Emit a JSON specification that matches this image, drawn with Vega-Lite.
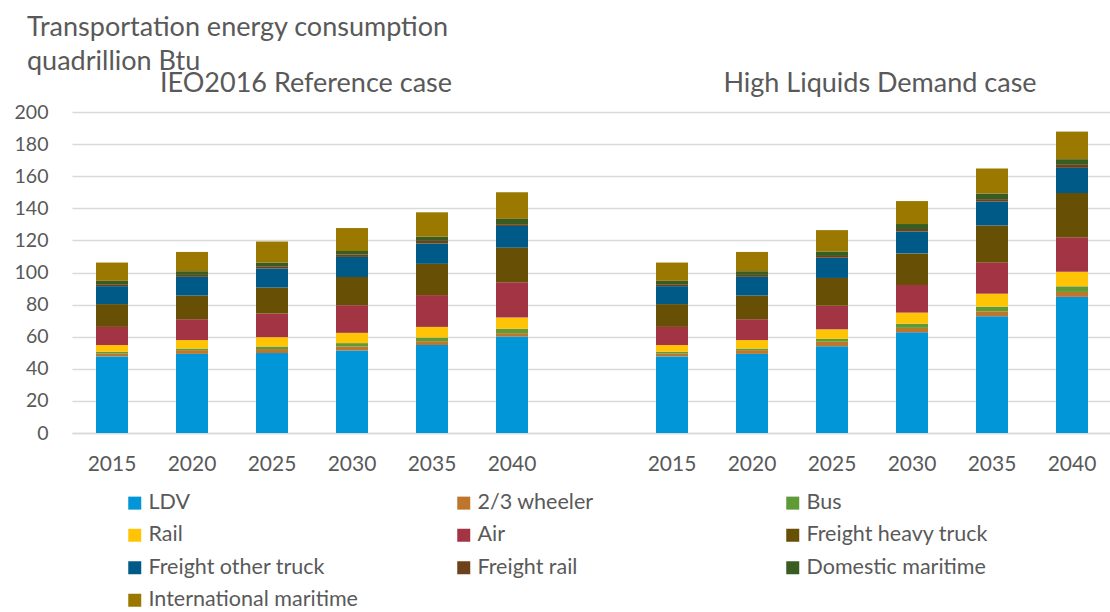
{
  "$schema": "https://vega.github.io/schema/vega-lite/v6.json",
  "autosize": {"type": "none"},
  "padding": {"left": 72, "top": 112, "right": 0, "bottom": 179},
  "width": 1040,
  "height": 321,
  "background": "white",
  "config": {
    "view": {"stroke": null},
    "font": "Lato"
  },
  "title": {
    "text": ["Transportation energy consumption", "quadrillion Btu"],
    "anchor": "start",
    "frame": "group",
    "orient": "top",
    "dx": -45,
    "offset": -27,
    "baseline": "alphabetic",
    "font": "Lato",
    "fontSize": 27,
    "fontWeight": "normal",
    "color": "#595959",
    "lineHeight": 34
  },
  "layer": [
    {
      "data": {
        "values": [
          {"s": "R2015", "c": "LDV", "k": 1, "v": 47.7},
          {"s": "R2015", "c": "2/3 wheeler", "k": 2, "v": 1.8},
          {"s": "R2015", "c": "Bus", "k": 3, "v": 1.1},
          {"s": "R2015", "c": "Rail", "k": 4, "v": 4.2},
          {"s": "R2015", "c": "Air", "k": 5, "v": 11.3},
          {"s": "R2015", "c": "Freight heavy truck", "k": 6, "v": 14.2},
          {"s": "R2015", "c": "Freight other truck", "k": 7, "v": 11.2},
          {"s": "R2015", "c": "Freight rail", "k": 8, "v": 1.2},
          {"s": "R2015", "c": "Domestic maritime", "k": 9, "v": 2.1},
          {"s": "R2015", "c": "International maritime", "k": 10, "v": 11.4},
          {"s": "R2020", "c": "LDV", "k": 1, "v": 49.3},
          {"s": "R2020", "c": "2/3 wheeler", "k": 2, "v": 2.3},
          {"s": "R2020", "c": "Bus", "k": 3, "v": 1.0},
          {"s": "R2020", "c": "Rail", "k": 4, "v": 5.3},
          {"s": "R2020", "c": "Air", "k": 5, "v": 13.0},
          {"s": "R2020", "c": "Freight heavy truck", "k": 6, "v": 14.7},
          {"s": "R2020", "c": "Freight other truck", "k": 7, "v": 11.7},
          {"s": "R2020", "c": "Freight rail", "k": 8, "v": 1.2},
          {"s": "R2020", "c": "Domestic maritime", "k": 9, "v": 2.3},
          {"s": "R2020", "c": "International maritime", "k": 10, "v": 12.0},
          {"s": "R2025", "c": "LDV", "k": 1, "v": 49.8},
          {"s": "R2025", "c": "2/3 wheeler", "k": 2, "v": 2.5},
          {"s": "R2025", "c": "Bus", "k": 3, "v": 1.6},
          {"s": "R2025", "c": "Rail", "k": 4, "v": 5.8},
          {"s": "R2025", "c": "Air", "k": 5, "v": 14.7},
          {"s": "R2025", "c": "Freight heavy truck", "k": 6, "v": 16.2},
          {"s": "R2025", "c": "Freight other truck", "k": 7, "v": 11.9},
          {"s": "R2025", "c": "Freight rail", "k": 8, "v": 1.4},
          {"s": "R2025", "c": "Domestic maritime", "k": 9, "v": 2.3},
          {"s": "R2025", "c": "International maritime", "k": 10, "v": 13.1},
          {"s": "R2030", "c": "LDV", "k": 1, "v": 51.4},
          {"s": "R2030", "c": "2/3 wheeler", "k": 2, "v": 2.5},
          {"s": "R2030", "c": "Bus", "k": 3, "v": 2.1},
          {"s": "R2030", "c": "Rail", "k": 4, "v": 6.4},
          {"s": "R2030", "c": "Air", "k": 5, "v": 17.2},
          {"s": "R2030", "c": "Freight heavy truck", "k": 6, "v": 17.6},
          {"s": "R2030", "c": "Freight other truck", "k": 7, "v": 12.5},
          {"s": "R2030", "c": "Freight rail", "k": 8, "v": 1.5},
          {"s": "R2030", "c": "Domestic maritime", "k": 9, "v": 2.2},
          {"s": "R2030", "c": "International maritime", "k": 10, "v": 14.3},
          {"s": "R2035", "c": "LDV", "k": 1, "v": 54.8},
          {"s": "R2035", "c": "2/3 wheeler", "k": 2, "v": 2.4},
          {"s": "R2035", "c": "Bus", "k": 3, "v": 2.3},
          {"s": "R2035", "c": "Rail", "k": 4, "v": 6.6},
          {"s": "R2035", "c": "Air", "k": 5, "v": 19.8},
          {"s": "R2035", "c": "Freight heavy truck", "k": 6, "v": 19.5},
          {"s": "R2035", "c": "Freight other truck", "k": 7, "v": 12.6},
          {"s": "R2035", "c": "Freight rail", "k": 8, "v": 1.7},
          {"s": "R2035", "c": "Domestic maritime", "k": 9, "v": 2.6},
          {"s": "R2035", "c": "International maritime", "k": 10, "v": 15.2},
          {"s": "R2040", "c": "LDV", "k": 1, "v": 60.1},
          {"s": "R2040", "c": "2/3 wheeler", "k": 2, "v": 2.1},
          {"s": "R2040", "c": "Bus", "k": 3, "v": 2.7},
          {"s": "R2040", "c": "Rail", "k": 4, "v": 7.0},
          {"s": "R2040", "c": "Air", "k": 5, "v": 22.1},
          {"s": "R2040", "c": "Freight heavy truck", "k": 6, "v": 21.5},
          {"s": "R2040", "c": "Freight other truck", "k": 7, "v": 13.5},
          {"s": "R2040", "c": "Freight rail", "k": 8, "v": 1.1},
          {"s": "R2040", "c": "Domestic maritime", "k": 9, "v": 3.3},
          {"s": "R2040", "c": "International maritime", "k": 10, "v": 16.6},
          {"s": "H2015", "c": "LDV", "k": 1, "v": 47.7},
          {"s": "H2015", "c": "2/3 wheeler", "k": 2, "v": 1.8},
          {"s": "H2015", "c": "Bus", "k": 3, "v": 1.1},
          {"s": "H2015", "c": "Rail", "k": 4, "v": 4.2},
          {"s": "H2015", "c": "Air", "k": 5, "v": 11.3},
          {"s": "H2015", "c": "Freight heavy truck", "k": 6, "v": 14.2},
          {"s": "H2015", "c": "Freight other truck", "k": 7, "v": 11.2},
          {"s": "H2015", "c": "Freight rail", "k": 8, "v": 1.2},
          {"s": "H2015", "c": "Domestic maritime", "k": 9, "v": 2.1},
          {"s": "H2015", "c": "International maritime", "k": 10, "v": 11.4},
          {"s": "H2020", "c": "LDV", "k": 1, "v": 49.3},
          {"s": "H2020", "c": "2/3 wheeler", "k": 2, "v": 2.3},
          {"s": "H2020", "c": "Bus", "k": 3, "v": 1.0},
          {"s": "H2020", "c": "Rail", "k": 4, "v": 5.3},
          {"s": "H2020", "c": "Air", "k": 5, "v": 13.0},
          {"s": "H2020", "c": "Freight heavy truck", "k": 6, "v": 14.7},
          {"s": "H2020", "c": "Freight other truck", "k": 7, "v": 11.7},
          {"s": "H2020", "c": "Freight rail", "k": 8, "v": 1.2},
          {"s": "H2020", "c": "Domestic maritime", "k": 9, "v": 2.3},
          {"s": "H2020", "c": "International maritime", "k": 10, "v": 12.0},
          {"s": "H2025", "c": "LDV", "k": 1, "v": 54.0},
          {"s": "H2025", "c": "2/3 wheeler", "k": 2, "v": 2.9},
          {"s": "H2025", "c": "Bus", "k": 3, "v": 1.7},
          {"s": "H2025", "c": "Rail", "k": 4, "v": 6.0},
          {"s": "H2025", "c": "Air", "k": 5, "v": 14.7},
          {"s": "H2025", "c": "Freight heavy truck", "k": 6, "v": 17.3},
          {"s": "H2025", "c": "Freight other truck", "k": 7, "v": 12.6},
          {"s": "H2025", "c": "Freight rail", "k": 8, "v": 1.1},
          {"s": "H2025", "c": "Domestic maritime", "k": 9, "v": 2.8},
          {"s": "H2025", "c": "International maritime", "k": 10, "v": 13.3},
          {"s": "H2030", "c": "LDV", "k": 1, "v": 62.7},
          {"s": "H2030", "c": "2/3 wheeler", "k": 2, "v": 2.8},
          {"s": "H2030", "c": "Bus", "k": 3, "v": 2.6},
          {"s": "H2030", "c": "Rail", "k": 4, "v": 6.9},
          {"s": "H2030", "c": "Air", "k": 5, "v": 17.2},
          {"s": "H2030", "c": "Freight heavy truck", "k": 6, "v": 19.7},
          {"s": "H2030", "c": "Freight other truck", "k": 7, "v": 13.7},
          {"s": "H2030", "c": "Freight rail", "k": 8, "v": 1.5},
          {"s": "H2030", "c": "Domestic maritime", "k": 9, "v": 3.1},
          {"s": "H2030", "c": "International maritime", "k": 10, "v": 14.3},
          {"s": "H2035", "c": "LDV", "k": 1, "v": 72.7},
          {"s": "H2035", "c": "2/3 wheeler", "k": 2, "v": 3.1},
          {"s": "H2035", "c": "Bus", "k": 3, "v": 2.9},
          {"s": "H2035", "c": "Rail", "k": 4, "v": 8.1},
          {"s": "H2035", "c": "Air", "k": 5, "v": 19.5},
          {"s": "H2035", "c": "Freight heavy truck", "k": 6, "v": 23.0},
          {"s": "H2035", "c": "Freight other truck", "k": 7, "v": 14.9},
          {"s": "H2035", "c": "Freight rail", "k": 8, "v": 1.5},
          {"s": "H2035", "c": "Domestic maritime", "k": 9, "v": 3.5},
          {"s": "H2035", "c": "International maritime", "k": 10, "v": 15.6},
          {"s": "H2040", "c": "LDV", "k": 1, "v": 84.8},
          {"s": "H2040", "c": "2/3 wheeler", "k": 2, "v": 3.1},
          {"s": "H2040", "c": "Bus", "k": 3, "v": 3.5},
          {"s": "H2040", "c": "Rail", "k": 4, "v": 9.1},
          {"s": "H2040", "c": "Air", "k": 5, "v": 21.5},
          {"s": "H2040", "c": "Freight heavy truck", "k": 6, "v": 27.5},
          {"s": "H2040", "c": "Freight other truck", "k": 7, "v": 15.7},
          {"s": "H2040", "c": "Freight rail", "k": 8, "v": 1.9},
          {"s": "H2040", "c": "Domestic maritime", "k": 9, "v": 3.5},
          {"s": "H2040", "c": "International maritime", "k": 10, "v": 17.2}
        ]
      },
      "mark": {"type": "bar"},
      "encoding": {
        "x": {
          "field": "s",
          "type": "nominal",
          "scale": {
            "domain": ["R2015", "R2020", "R2025", "R2030", "R2035", "R2040", "gap", "H2015", "H2020", "H2025", "H2030", "H2035", "H2040"],
            "paddingInner": 0.6,
            "paddingOuter": 0.3
          },
          "axis": {
            "title": null,
            "labelExpr": "datum.value == 'gap' ? '' : slice(datum.value, 1)",
            "labelAngle": 0,
            "labelFont": "Lato",
            "labelFontSize": 21,
            "labelColor": "#595959",
            "labelPadding": 20,
            "labelOverlap": false,
            "ticks": false,
            "domainColor": "#D9D9D9",
            "domainWidth": 1.5,
            "grid": false
          }
        },
        "y": {
          "field": "v",
          "type": "quantitative",
          "stack": "zero",
          "scale": {"domain": [0, 200], "nice": false},
          "axis": {
            "title": null,
            "values": [0, 20, 40, 60, 80, 100, 120, 140, 160, 180, 200],
            "tickCount": 20,
            "labelFont": "Lato",
            "labelFontSize": 19.5,
            "labelColor": "#595959",
            "labelPadding": 24,
            "labelOverlap": false,
            "labelFlush": false,
            "ticks": false,
            "domain": false,
            "grid": true,
            "gridColor": "#D9D9D9",
            "gridWidth": 1.5
          }
        },
        "order": {"field": "k", "type": "quantitative", "sort": "ascending"},
        "color": {
          "field": "c",
          "type": "nominal",
          "scale": {
            "domain": ["LDV", "2/3 wheeler", "Bus", "Rail", "Air", "Freight heavy truck", "Freight other truck", "Freight rail", "Domestic maritime", "International maritime"],
            "range": ["#0096D7", "#BE752C", "#5E9A35", "#FFC406", "#A23443", "#674F05", "#005A87", "#6D421B", "#375D22", "#9B7800"]
          },
          "legend": {
            "title": null,
            "orient": "none",
            "direction": "horizontal",
            "legendX": 52,
            "legendY": 380,
            "columns": 3,
            "gridAlign": "all",
            "columnPadding": 95,
            "rowPadding": 9.5,
            "padding": 0,
            "symbolType": "square",
            "symbolSize": 169,
            "symbolStrokeWidth": 0,
            "labelFont": "Lato",
            "labelFontSize": 21.5,
            "labelColor": "#595959",
            "labelOffset": 3,
            "labelLimit": 400
          }
        }
      }
    },
    {
      "data": {"values": [{"s": "R2025", "label": "IEO2016 Reference case"}]},
      "mark": {"type": "text", "dx": 34, "dy": -20, "baseline": "alphabetic", "align": "center", "font": "Lato", "fontSize": 27, "color": "#595959"},
      "encoding": {
        "x": {"field": "s", "type": "nominal"},
        "y": {"datum": 200, "type": "quantitative"},
        "text": {"field": "label"}
      }
    },
    {
      "data": {"values": [{"s": "H2025", "label": "High Liquids Demand case"}]},
      "mark": {"type": "text", "dx": 48, "dy": -20, "baseline": "alphabetic", "align": "center", "font": "Lato", "fontSize": 27, "color": "#595959"},
      "encoding": {
        "x": {"field": "s", "type": "nominal"},
        "y": {"datum": 200, "type": "quantitative"},
        "text": {"field": "label"}
      }
    }
  ]
}
